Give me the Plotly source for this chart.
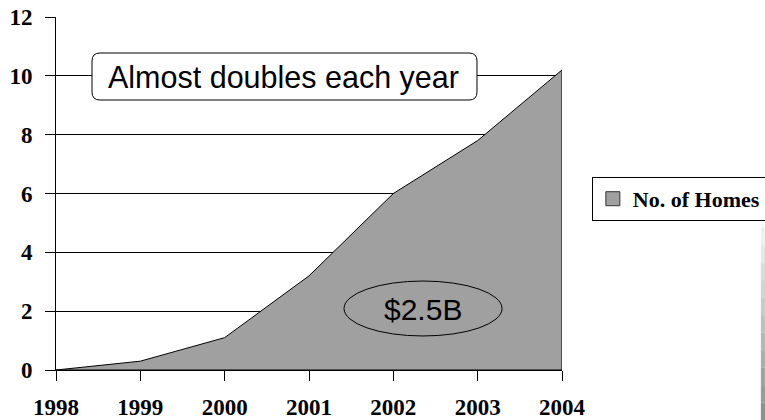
import plotly.graph_objects as go

years = [1998, 1999, 2000, 2001, 2002, 2003, 2004]
homes = [0.0, 0.3, 1.1, 3.2, 6.0, 7.8, 10.2]
series_name = "No. of Homes"
y_ticks = [0, 2, 4, 6, 8, 10, 12]

# close the area polygon down to the baseline
poly_x = years + [years[-1], years[0]]
poly_y = homes + [0, 0]

fig = go.Figure()
fig.add_trace(go.Scatter(
    x=poly_x, y=poly_y, mode="lines", fill="toself",
    fillcolor="#a0a0a0", line=dict(color="#000000", width=1),
    name=series_name, showlegend=False, hoverinfo="skip",
))
# legend entry (square swatch like the original)
fig.add_trace(go.Scatter(
    x=[None], y=[None], mode="markers", name=series_name,
    marker=dict(symbol="square", size=14, color="#a0a0a0",
                line=dict(color="#333333", width=1)),
    showlegend=True, hoverinfo="skip",
))

serif = "Liberation Serif, Times New Roman, serif"
sans = "Liberation Sans, Arial, sans-serif"

# rounded box for the callout
x0, x1, y0, y1 = 1998.427, 2002.992, 9.178, 10.776
rx, ry = 0.095, 0.272
path = (f"M {x0+rx},{y1} L {x1-rx},{y1} Q {x1},{y1} {x1},{y1-ry} "
        f"L {x1},{y0+ry} Q {x1},{y0} {x1-rx},{y0} L {x0+rx},{y0} "
        f"Q {x0},{y0} {x0},{y0+ry} L {x0},{y1-ry} Q {x0},{y1} {x0+rx},{y1} Z")
shapes = [
    dict(type="path", path=path, xref="x", yref="y",
         fillcolor="#ffffff", line=dict(color="#000000", width=1), layer="above"),
    dict(type="circle", xref="x", yref="y", x0=2001.415, x1=2003.289, y0=1.156, y1=3.025,
         line=dict(color="#000000", width=1), fillcolor="rgba(0,0,0,0)", layer="above"),
]
# right-edge gradient strip
n = 12
top, bot = 0.453, -0.142
for i in range(n):
    ya = top + (bot - top) * i / n
    yb = top + (bot - top) * (i + 1) / n
    g = int(255 - (255 - 140) * (i + 0.5) / n)
    shapes.append(dict(type="rect", xref="paper", yref="paper", x0=1.393, x1=1.402,
                       y0=yb, y1=ya, fillcolor=f"rgb({g},{g},{g})", line=dict(width=0),
                       layer="above"))

fig.update_layout(
    width=765, height=420,
    margin=dict(l=56, r=203, t=17, b=50, autoexpand=False),
    paper_bgcolor="#ffffff", plot_bgcolor="#ffffff",
    shapes=shapes,
    annotations=[
        dict(x=2000.698, y=9.96, xref="x", yref="y", text="Almost doubles each year",
             showarrow=False, font=dict(family=sans, size=30.5, color="#000000")),
        dict(x=2002.35, y=2.06, xref="x", yref="y", text="$2.5B",
             showarrow=False, font=dict(family=sans, size=30, color="#000000")),
    ],
    legend=dict(x=1.059, y=0.547, xanchor="left", yanchor="top",
                bgcolor="#ffffff", bordercolor="#000000", borderwidth=1,
                font=dict(family=serif, size=22, color="#000000", weight="bold"),
                itemwidth=30, tracegroupgap=0),
    showlegend=True,
    xaxis=dict(range=[years[0], years[-1]], tickvals=years, ticktext=[str(y) for y in years],
               showgrid=False, zeroline=False, showline=True, linecolor="#000000", linewidth=1,
               ticks="outside", ticklen=10, tickcolor="#000000",
               tickfont=dict(family=serif, size=23, color="#000000", weight="bold"),
               ticklabelstandoff=6),
    yaxis=dict(range=[0, 12], tickvals=y_ticks, showgrid=True, gridcolor="#000000", gridwidth=1,
               zeroline=False, showline=True, linecolor="#000000", linewidth=1,
               ticks="outside", ticklen=10, tickcolor="#000000",
               tickfont=dict(family=serif, size=23, color="#000000", weight="bold"),
               ticklabelstandoff=8),
)

fig.write_html("out.html", config={"displayModeBar": False},
               post_script="document.body.style.margin='0';document.body.style.overflow='hidden';")
